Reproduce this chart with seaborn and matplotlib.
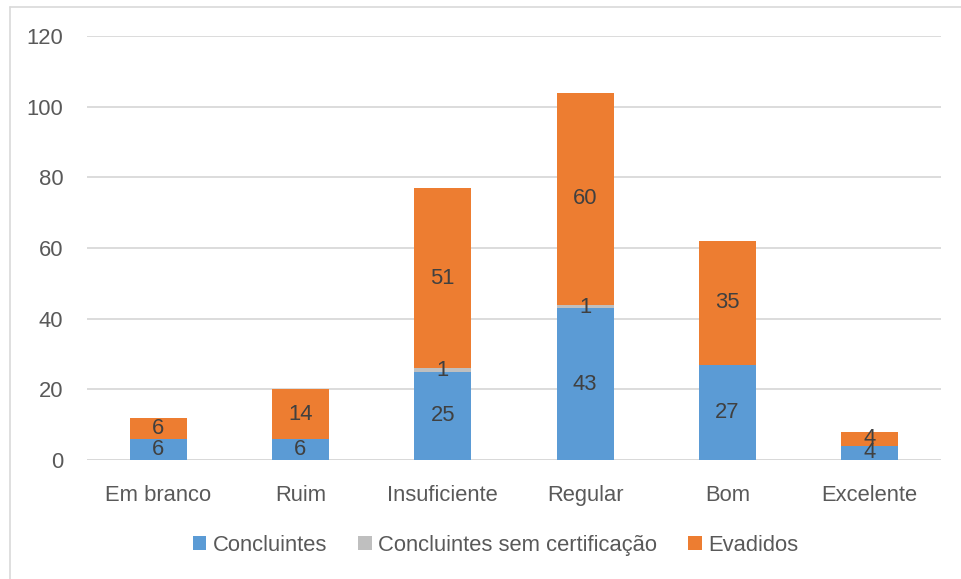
import matplotlib
matplotlib.use("Agg")
import matplotlib.pyplot as plt
import seaborn as sns
import pandas as pd
import numpy as np
from matplotlib.lines import Line2D
from matplotlib.patches import Patch

categories = ["Em branco", "Ruim", "Insuficiente", "Regular", "Bom", "Excelente"]
concluintes = [6, 6, 25, 43, 27, 4]
sem_cert = [0, 0, 1, 1, 0, 0]
evadidos = [6, 14, 51, 60, 35, 4]
series_names = ["Concluintes", "Concluintes sem certificação", "Evadidos"]
colors = ["#5B9BD5", "#BFBFBF", "#ED7D31"]
yticks = [0, 20, 40, 60, 80, 100, 120]

sns.set_theme(style="white")
plt.rcParams["font.family"] = ["Liberation Sans", "DejaVu Sans"]

c = np.array(concluintes)
s = np.array(sem_cert)
e = np.array(evadidos)
df = pd.DataFrame({
    "cat": categories,
    "l1": c,
    "l2": c + s,
    "l3": c + s + e,
})

fig = plt.figure(figsize=(9.61, 5.79), dpi=100)
ax = fig.add_axes([0.0905, 0.2055, 0.8885, 0.7323])

for col, color in zip(["l3", "l2", "l1"], colors[::-1]):
    sns.barplot(data=df, x="cat", y=col, color=color, width=0.4, ax=ax,
                saturation=1, order=categories, zorder=3, linewidth=0)

ax.set_ylim(0, 120)
ax.set_xlim(-0.5, 5.5)
ax.set_yticks(yticks)
ax.yaxis.grid(True, color="#D9D9D9", linewidth=1.3, zorder=0)
ax.set_axisbelow(True)
for sp in ax.spines.values():
    sp.set_visible(False)
ax.axhline(0, color="#D9D9D9", linewidth=1.3, zorder=2)
ax.set_xlabel("")
ax.set_ylabel("")
FS = 15.8
ax.tick_params(axis="both", length=0, labelsize=FS, colors="#595959")
ax.tick_params(axis="x", pad=18)
ax.tick_params(axis="y", pad=17)

lab_kw = dict(ha="center", va="center", fontsize=FS, color="#404040", zorder=5)
for i in range(len(categories)):
    ax.text(i, c[i] / 2, str(c[i]), **lab_kw)
    if s[i] > 0:
        ax.text(i, c[i] + s[i] / 2 - 0.3, str(s[i]), **lab_kw)
    ax.text(i, c[i] + s[i] + e[i] / 2, str(e[i]), **lab_kw)

handles = [Patch(facecolor=col, edgecolor="none") for col in colors]
leg = fig.legend(handles, series_names, loc="center", bbox_to_anchor=(0.5156, 0.058),
                 ncol=3, frameon=False, fontsize=FS, handlelength=0.62,
                 handleheight=0.62, handletextpad=0.3, columnspacing=1.4)
for t in leg.get_texts():
    t.set_color("#595959")

fig.add_artist(Line2D([0.0109, 0.0109], [0.0, 0.988], transform=fig.transFigure,
                      color="#D9D9D9", linewidth=1.2))
fig.add_artist(Line2D([0.0109, 1.0], [0.988, 0.988], transform=fig.transFigure,
                      color="#D9D9D9", linewidth=1.2))

fig.savefig("out.png", dpi=100)
